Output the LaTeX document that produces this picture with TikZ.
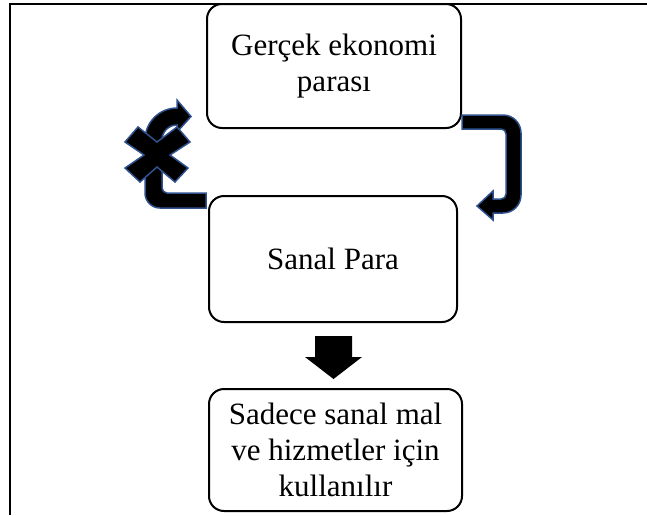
\documentclass[tikz,border=0pt]{standalone}
\usepackage{fontspec}
\setmainfont{Liberation Serif}
\definecolor{shapeblue}{RGB}{47,82,143}
\begin{document}
\begin{tikzpicture}[x=1pt,y=-1pt,
  box/.style={draw, line width=2pt, rounded corners=15pt, align=center,
    inner sep=0pt, outer sep=0pt,
    font=\fontsize{31}{36}\selectfont},
  bentarrow/.style={fill=black, draw=shapeblue, line width=1.5pt, line join=miter},
  blockdown/.style={fill=black, draw=none}]
\useasboundingbox (0,0) rectangle (647,515);

% cell frame
\draw[line width=2pt] (9.5,515) -- (9.5,3.5) -- (647,3.5);

% boxes
\node[box, minimum width=254pt, minimum height=124pt] (top) at (334,66)
  {Gerçek ekonomi\\parası};
\node[box, minimum width=248pt, minimum height=126pt] (mid) at (333,259)
  {Sanal Para};
\node[box, minimum width=253pt, minimum height=122pt] (bot) at (335.5,450)
  {Sadece sanal mal\\ve hizmetler için\\kullanılır};

% bent arrow from the upper box down to the middle box
\draw[bentarrow] (462,115) -- (503,115)
  .. controls (513,115) and (521,123) .. (521,133)
  -- (521,195)
  .. controls (521,205) and (513,213) .. (503,213)
  -- (493,213) -- (493,220) -- (477,206) -- (493,191) -- (493,199)
  -- (501,199)
  .. controls (504,199) and (506,197) .. (506,194)
  -- (506,134)
  .. controls (506,131) and (504,129) .. (501,129)
  -- (462,129) -- cycle;

% curved arrow from the middle box back up (blocked)
\draw[bentarrow] (206,193) -- (167,193)
  .. controls (164.5,193) and (162,190.5) .. (162,188)
  -- (162,140)
  .. controls (162,131.7) and (168.7,125) .. (177,125)
  -- (177,132) -- (191,116.5) -- (177,100) -- (177,108)
  .. controls (159.3,108) and (145,122.3) .. (145,140)
  -- (145,193)
  .. controls (145,201.3) and (151.7,208) .. (160,208)
  -- (206,208) -- cycle;

% cross over the curved arrow
\draw[bentarrow] (157,142) -- (177,127) -- (190,142) -- (170,155)
  -- (188,168) -- (175,182) -- (157,167) -- (140,182) -- (125,168)
  -- (144,155) -- (125,142) -- (138,127) -- cycle;

% block arrow down to the lower box
\fill[blockdown] (315,336) -- (352,336) -- (352,357) -- (362,357)
  -- (333.5,379) -- (305,357) -- (315,357) -- cycle;
\end{tikzpicture}
\end{document}
